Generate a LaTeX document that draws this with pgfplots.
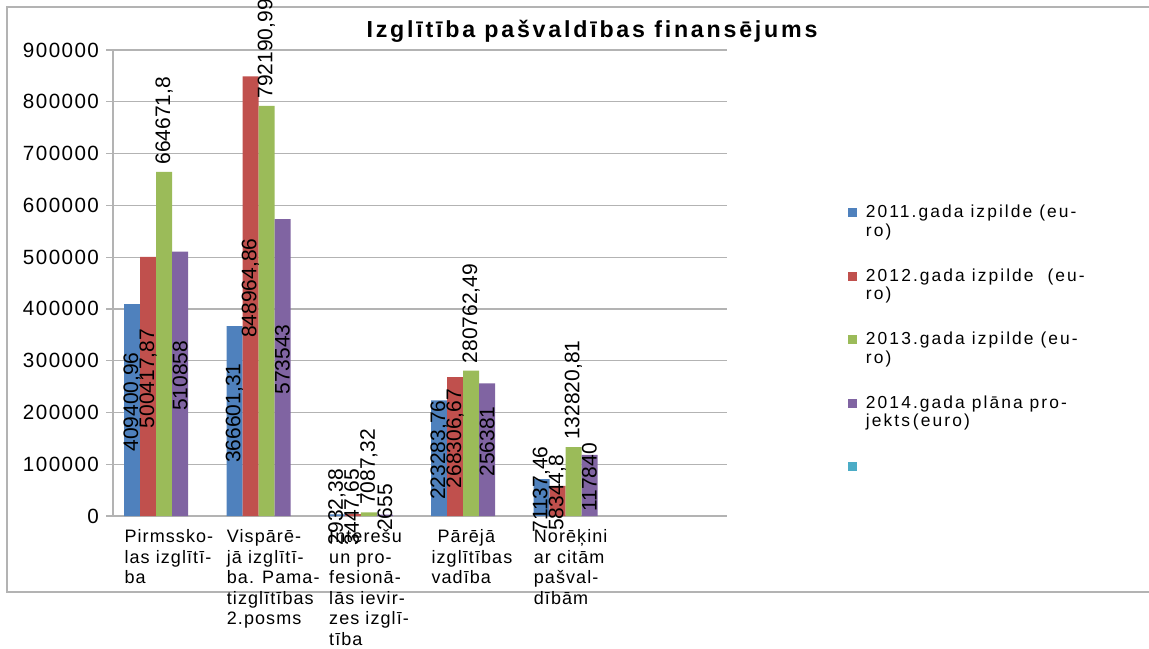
\documentclass[border=0pt]{standalone}
\usepackage{pgfplots}
\pgfplotsset{compat=1.18}
\usepackage{fontspec}
\setmainfont{Liberation Sans}
\newfontfamily\tickf[LetterSpace=7]{Liberation Sans}
\newfontfamily\legf[LetterSpace=12]{Liberation Sans}
\newfontfamily\catf[LetterSpace=6]{Liberation Sans}
\newfontfamily\titf[LetterSpace=12]{Liberation Sans}
\definecolor{c1}{HTML}{4F81BD}
\definecolor{c2}{HTML}{C0504D}
\definecolor{c3}{HTML}{9BBB59}
\definecolor{c4}{HTML}{8064A2}
\definecolor{c5}{HTML}{4BACC6}
\definecolor{gridc}{HTML}{B3B3B3}
\newcommand\lblf{\fontsize{10.5pt}{12pt}\selectfont}
\pgfplotsset{
  sqlegend/.style={legend image code/.code={\fill[##1] (0pt,2.35pt) rectangle (4.5pt,6.85pt); \path (6.8pt,0pt);}},
  mybar/.style={ybar, bar width=8pt, draw=none, fill=#1, sqlegend},
  cen/.style={point meta=explicit symbolic, nodes near coords,
    visualization depends on={y \as \rawy},
    nodes near coords align={center},
    nodes near coords style={font=\lblf, shift={(axis direction cs:0,-\rawy/2)}, xshift=#1, yshift=4pt, rotate=90, anchor=center, inner sep=1pt, text=black}},
  topl/.style={point meta=explicit symbolic, nodes near coords,
    nodes near coords align={west},
    nodes near coords style={font=\lblf, rotate=90, anchor=west, inner sep=3.5pt, text=black}},
}
\begin{document}
\begin{tikzpicture}
\clip (0,0) rectangle (574.5pt,-324pt);
\draw[color=gridc, line width=0.6pt] (3.5pt,-3.5pt) rectangle (600pt,-296pt);
\node[font=\titf\bfseries\fontsize{11.6pt}{13pt}\selectfont] at (296pt,-15.5pt) {Izglītība pašvaldības finansējums};
\begin{axis}[
  at={(56.5pt,-258pt)}, anchor=south west,
  scale only axis, width=307pt, height=233pt,
  xmin=-0.5, xmax=5.5, ymin=0, ymax=900000,
  clip=false,
  scaled y ticks=false,
  axis x line*=bottom, axis y line*=left,
  axis line style={color=gridc, line width=0.6pt},
  ymajorgrids, grid style={color=gridc, line width=0.6pt},
  ytick={0,100000,200000,300000,400000,500000,600000,700000,800000,900000},
  yticklabels={0,100000,200000,300000,400000,500000,600000,700000,800000,900000},
  yticklabel style={font=\tickf\fontsize{10.3pt}{12pt}\selectfont},
  ytick style={color=gridc, line width=0.6pt},
  tick align=outside, major tick length=3.5pt,
  xtick={0,1,2,3,4},
  xtick style={draw=none},
  xticklabels={{Pirmssko-\\las izglītī-\\ba},{Vispārē-\\jā izglītī-\\ba. Pama-\\tizglītības\\2.posms},{Interešu\\un pro-\\fesionā-\\lās ievir-\\zes izglī-\\tība},{\ Pārējā\\izglītības\\vadība},{Norēķini\\ar citām\\pašval-\\dībām}},
  xticklabel style={font=\catf\fontsize{9pt}{10.3pt}\selectfont, align=left, anchor=north west, inner sep=0pt, xshift=-20pt, yshift=-3pt},
  legend style={at={(1.197,0.677)}, anchor=north west, draw=none, fill=none,
    font=\legf\fontsize{8.7pt}{9.25pt}\selectfont, cells={anchor=west, align=left}, row sep=10.7pt, inner sep=0pt},
  legend cell align=left,
]
\addplot[mybar=c1, bar shift=-16pt, cen=-16pt] coordinates {(0,409400.96) [409400,96] (1,366601.31) [366601,31] (2,2932.38) [2932,38] (3,223283.76) [223283,76] (4,71137.46) [71137,46]};
\addlegendentry{2011.gada izpilde (eu-\\ro)}
\addplot[mybar=c2, bar shift=-8pt, cen=-8pt] coordinates {(0,500417.87) [500417,87] (1,848964.86) [848964,86] (2,3447.65) [3447,65] (3,268306.67) [268306,67] (4,58344.8) [58344,8]};
\addlegendentry{2012.gada izpilde\ \ (eu-\\ro)}
\addplot[mybar=c3, bar shift=0pt, topl] coordinates {(0,664671.8) [664671,8] (1,792190.99) [792190,99] (2,7087.32) [7087,32] (3,280762.49) [280762,49] (4,132820.81) [132820,81]};
\addlegendentry{2013.gada izpilde (eu-\\ro)}
\addplot[mybar=c4, bar shift=8pt, cen=8pt] coordinates {(0,510858) [510858] (1,573543) [573543] (2,2655) [2655] (3,256381) [256381] (4,117840) [117840]};
\addlegendentry{2014.gada plāna pro-\\jekts\,(euro)}
\addlegendimage{fill=c5, draw=none, sqlegend}
\addlegendentry{\strut\\\strut}
\end{axis}
\end{tikzpicture}
\end{document}
